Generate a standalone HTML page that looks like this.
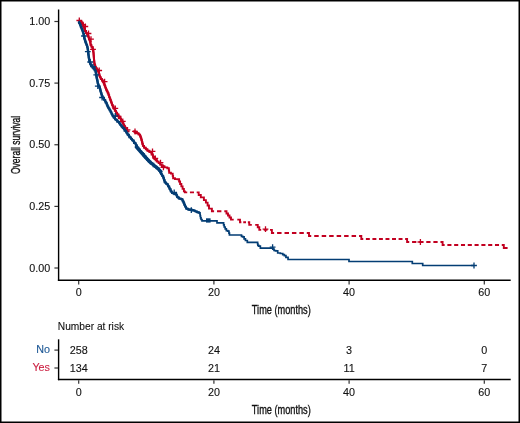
<!DOCTYPE html>
<html><head><meta charset="utf-8"><style>
html,body{margin:0;padding:0;background:#fff;}
body{width:520px;height:423px;overflow:hidden;}
svg{display:block;filter:blur(0.3px);}
text{font-family:"Liberation Sans", sans-serif;}
</style></head><body>
<svg width="520" height="423" viewBox="0 0 520 423">
<rect x="0" y="0" width="520" height="423" fill="#fff"/>
<g stroke="#000" stroke-width="1.4" fill="none">
<line x1="58.6" y1="9.4" x2="58.6" y2="281"/>
<line x1="57.9" y1="280.3" x2="510.7" y2="280.3"/>
</g>
<g stroke="#333" stroke-width="1.2">
<line x1="54.4" y1="21.5" x2="58" y2="21.5"/>
<line x1="54.4" y1="83.1" x2="58" y2="83.1"/>
<line x1="54.4" y1="144.75" x2="58" y2="144.75"/>
<line x1="54.4" y1="206.4" x2="58" y2="206.4"/>
<line x1="54.4" y1="268.0" x2="58" y2="268.0"/>
<line x1="78.7" y1="281" x2="78.7" y2="284.6"/>
<line x1="213.9" y1="281" x2="213.9" y2="284.6"/>
<line x1="349.1" y1="281" x2="349.1" y2="284.6"/>
<line x1="484.3" y1="281" x2="484.3" y2="284.6"/>
</g>
<g font-size="10" fill="#111" stroke="#111" stroke-width="0.1" text-anchor="end">
<text transform="translate(50.2,25.1) scale(1.08,1)">1.00</text>
<text transform="translate(50.2,86.7) scale(1.08,1)">0.75</text>
<text transform="translate(50.2,148.3) scale(1.08,1)">0.50</text>
<text transform="translate(50.2,210.0) scale(1.08,1)">0.25</text>
<text transform="translate(50.2,271.6) scale(1.08,1)">0.00</text>
</g>
<g font-size="10" fill="#111" stroke="#111" stroke-width="0.1" text-anchor="middle">
<text transform="translate(78.7,296.4) scale(1.08,1)">0</text>
<text transform="translate(213.9,296.4) scale(1.08,1)">20</text>
<text transform="translate(349.1,296.4) scale(1.08,1)">40</text>
<text transform="translate(484.3,296.4) scale(1.08,1)">60</text>
</g>
<text transform="translate(19.9,144.9) rotate(-90) scale(0.70,1)" font-size="12.2" text-anchor="middle" fill="#111" stroke="#111" stroke-width="0.35">Overall survival</text>
<text transform="translate(281.3,313.8) scale(0.754,1)" font-size="12.2" text-anchor="middle" fill="#111" stroke="#111" stroke-width="0.35">Time (months)</text>
<path d="M78.7 21.5L81.1 21.8L82.5 23.9L83.6 26.1L84.6 28.9L85.3 31L86.8 33.1L88.2 36L89.2 38.8L90.3 41.7L90.7 45L92.1 46.9L93 49.3L93.5 52.6L94 59.2L94.5 63.9L95.4 66.7L97.3 69.6L98.7 71.5L99.2 74.3L100.1 77.2L101.5 79L103.4 81.9L104.5 84.7L106.3 89.5L108.2 93.2L109.5 97.1L111.2 101.8L113 106.5L115.4 110.7L117.7 114.8L120.7 118.4L123 123.1L125.4 127.8L127.6 131.4M133.6 131.4L137.4 133.2L139.8 134.6L141.2 138.4L142.2 142.2L143.1 145.9L145 147.8L148.2 150.8L150.6 152L152.5 154.5L153.3 156.8L155.5 159L158 161.6" fill="none" stroke="#c20020" stroke-width="2.0" stroke-linejoin="round"/>
<path d="M78.7 21.5 L79.9 21.5 L79.9 21.8 L81.8 21.8 L81.8 23.9 L83.05 23.9 L83.05 26.1 L83.85 26.1 L83.85 27.5 L84.35 27.5 L84.35 28.9 L84.95 28.9 L84.95 31 L86.05 31 L86.05 33.1 L87.15 33.1 L87.15 34.55 L87.85 34.55 L87.85 36 L88.45 36 L88.45 37.4 L88.95 37.4 L88.95 38.8 L89.47 38.8 L89.47 40.25 L90.03 40.25 L90.03 41.7 L90.4 41.7 L90.4 43.35 L90.6 43.35 L90.6 45 L91.4 45 L91.4 46.9 L92.55 46.9 L92.55 49.3 L93.12 49.3 L93.12 50.95 L93.38 50.95 L93.38 52.6 L93.56 52.6 L93.56 54.25 L93.69 54.25 L93.69 55.9 L93.81 55.9 L93.81 57.55 L93.94 57.55 L93.94 59.2 L94.08 59.2 L94.08 60.77 L94.25 60.77 L94.25 62.33 L94.42 62.33 L94.42 63.9 L94.72 63.9 L94.72 65.3 L95.18 65.3 L95.18 66.7 L95.88 66.7 L95.88 68.15 L96.83 68.15 L96.83 69.6 L98 69.6 L98 71.5 L98.83 71.5 L98.83 72.9 L99.08 72.9 L99.08 74.3 L99.42 74.3 L99.42 75.75 L99.88 75.75 L99.88 77.2 L100.8 77.2 L100.8 79 L101.97 79 L101.97 80.45 L102.93 80.45 L102.93 81.9 L103.68 81.9 L103.68 83.3 L104.22 83.3 L104.22 84.7 L104.8 84.7 L104.8 86.3 L105.4 86.3 L105.4 87.9 L106 87.9 L106 89.5 L106.78 89.5 L106.78 91.35 L107.72 91.35 L107.72 93.2 L108.53 93.2 L108.53 95.15 L109.17 95.15 L109.17 97.1 L109.78 97.1 L109.78 98.67 L110.35 98.67 L110.35 100.23 L110.92 100.23 L110.92 101.8 L111.5 101.8 L111.5 103.37 L112.1 103.37 L112.1 104.93 L112.7 104.93 L112.7 106.5 L113.6 106.5 L113.6 108.6 L114.8 108.6 L114.8 110.7 L115.98 110.7 L115.98 112.75 L117.12 112.75 L117.12 114.8 L118.45 114.8 L118.45 116.6 L119.95 116.6 L119.95 118.4 L121.08 118.4 L121.08 119.97 L121.85 119.97 L121.85 121.53 L122.62 121.53 L122.62 123.1 L123.4 123.1 L123.4 124.67 L124.2 124.67 L124.2 126.23 L125 126.23 L125 127.8 L125.95 127.8 L125.95 129.6 L127.05 129.6 L127.05 131.4 L129.59 131.4M132.97 131.4 L135.5 131.4 L135.5 133.2 L138.6 133.2 L138.6 134.6 L140.15 134.6 L140.15 136.5 L140.85 136.5 L140.85 138.4 L141.45 138.4 L141.45 140.3 L141.95 140.3 L141.95 142.2 L142.42 142.2 L142.42 144.05 L142.88 144.05 L142.88 145.9 L144.05 145.9 L144.05 147.8 L145.8 147.8 L145.8 149.3 L147.4 149.3 L147.4 150.8 L149.4 150.8 L149.4 152 L151.55 152 L151.55 154.5 L152.9 154.5 L152.9 156.8 L154.4 156.8 L154.4 159 L156.75 159 L156.75 161.6 L158.7 161.6 L158.7 163.05 L160.1 163.05 L160.1 164.5 L161.9 164.5 L161.9 166.2 L164.45 166.2 L164.45 167.4 L167.3 167.4 L167.3 168.3 L168.85 168.3 L168.85 170.55 L169.15 170.55 L169.15 172.8 L170.9 172.8 L170.9 173.6 L172.7 173.6 L172.7 175.9 L173.1 175.9 L173.1 178.2 L174.95 178.2 L174.95 179.1 L177.65 179.1 L177.65 179.3 L179.1 179.3 L179.1 181.5 L180.1 181.5 L180.1 184 L181.35 184 L181.35 186.4 L182.6 186.4 L182.6 188.9 L183.9 188.9 L183.9 191.4 L184.9 191.4 L184.9 192.4 L185.2 192.4 L187.22 192.4M189.92 192.4 L193.97 192.4M196.67 192.4 L198.7 192.4 L198.7 195 L200.8 195 L200.8 197.4 L203.9 197.4 L203.9 200.1 L205.9 200.1 L205.9 202.6 L207.6 202.6 L207.6 205.5 L209 205.5 L209 208.6 L211.9 208.6 L211.9 211.2 L214.09 211.2M217.01 211.2 L221.39 211.2M224.31 211.2 L226.5 211.2 L226.5 213.5 L228 213.5 L228 215.5 L229.5 215.5 L229.5 217.5 L231 217.5 L231 219.6 L233.7 219.6M237.3 219.6 L240 219.6 L240 222.2 L241.39 222.2M243.24 222.2 L246.01 222.2M247.86 222.2 L249.25 222.2 L249.25 224.9 L251.8 224.9M255.2 224.9 L257.75 224.9 L257.75 227.3 L259.3 227.3 L259.3 229.9 L261.19 229.9M263.71 229.9 L267.49 229.9M270.01 229.9 L271.9 229.9 L271.9 233 L274.13 233M277.09 233 L281.55 233M284.51 233 L288.97 233M291.93 233 L296.39 233M299.35 233 L303.81 233M306.77 233 L309 233 L309 236 L311.24 236M314.23 236 L318.71 236M321.7 236 L326.18 236M329.17 236 L333.66 236M336.64 236 L341.13 236M344.12 236 L348.6 236M351.59 236 L356.07 236M359.06 236 L361.3 236 L361.3 239 L363.26 239M365.88 239 L369.81 239M372.42 239 L376.35 239M378.97 239 L382.89 239M385.51 239 L389.43 239M392.05 239 L395.98 239M398.59 239 L402.52 239M405.14 239 L407.1 239 L407.1 242 L409.23 242M412.07 242 L416.33 242M419.17 242 L423.43 242M426.27 242 L430.53 242M433.37 242 L437.63 242M440.47 242 L442.6 242 L442.6 245 L444.64 245M447.36 245 L451.44 245M454.16 245 L458.24 245M460.96 245 L465.04 245M467.76 245 L471.84 245M474.56 245 L478.64 245M481.36 245 L485.44 245M488.16 245 L492.24 245M494.96 245 L499.04 245M501.76 245 L503.8 245 L503.8 248 L507.6 248" fill="none" stroke="#c20020" stroke-width="1.9" stroke-linejoin="miter"/>
<path d="M76.4 20.5H82.2M79.3 17.6V23.4M80.3 24.6H86.1M83.2 21.7V27.5M82.4 26.5H88.2M85.3 23.6V29.4M85.6 33.5H91.4M88.5 30.6V36.4M88.1 39.2H93.9M91 36.3V42.1M90.1 49.3H95.9M93 46.4V52.2M96.3 70.5H102.1M99.2 67.6V73.4M101.7 81.6H107.5M104.6 78.7V84.5M112.4 108.4H118.2M115.3 105.5V111.3M115.7 116.4H121.5M118.6 113.5V119.3M119.9 121.3H125.7M122.8 118.4V124.2M124.6 129.9H130.4M127.5 127V132.8M132.1 131.3H137.9M135 128.4V134.2M149.6 151.3H155.4M152.5 148.4V154.2M152.4 158.4H158.2M155.3 155.5V161.3M157.6 162.7H163.4M160.5 159.8V165.6M160.5 167.4H166.3M163.4 164.5V170.3M262.6 229.2H268.4M265.5 226.3V232.1M417.5 242H423.3M420.4 239.1V244.9" fill="none" stroke="#c20020" stroke-width="1.3"/>
<path d="M78.7 21.5L80.2 24.6L81.1 27L82.5 30.3L83.5 33.5L84.6 38.8L85.7 42.4L86.9 45L87.8 48.8L88.8 57.3L89.7 62L91.1 65.3L93.5 67.7L95.4 70.5L96.3 74.3L96.8 78.1L97.8 82.8L98.3 84.7L99.7 87.6L100.7 91.3L102.1 96.1L104.5 99.9L106.3 102.7L107.8 106.5L110.1 110.3L112.8 115.7L115.7 119.5L118.5 121.8L120.9 125.1L123.2 128L125.6 130.8L128 134.6L130.3 137.4L132.7 140.3L135.1 143.1L137.8 147.6L140.7 151.3L143.5 154.2L146.3 158.2L149.2 161.5L152 163.7L154.9 166.5L158 168.3L159.7 170.7L161.3 174L163 176.1L164.2 179.8L165 182.3L167.1 184L168.7 186.4L170 188.9L171.2 191.4L172.5 193.1L175.8 193.8L176.8 195.3L177.5 197.2L179.9 198.6L181.9 199.2L183.3 201.5L184.7 204.9L186.6 208.6L189.5 209.6L194.2 210.5L196.1 211.5L198.4 212.4L199.9 212.9" fill="none" stroke="#033d74" stroke-width="2.5" stroke-linejoin="round"/>
<path d="M136.3 147 L143.3 155 L150.2 162.2 L157.3 168 L161 171.6" fill="none" stroke="#033d74" stroke-width="3.4" stroke-linecap="round" stroke-linejoin="round"/>
<path d="M78.7 21.5H79.08V23.05H79.83V24.6H80.65V27H81.45V28.65H82.15V30.3H82.75V31.9H83.25V33.5H83.68V35.27H84.05V37.03H84.42V38.8H84.88V40.6H85.42V42.4H86.3V45H87.12V46.9H87.58V48.8H87.92V50.92H88.17V53.05H88.42V55.17H88.67V57.3H89.03V59.65H89.47V62H90.05V63.65H90.75V65.3H92.3V67.7H94.45V70.5H95.62V72.4H96.08V74.3H96.42V76.2H96.67V78.1H97.05V80.45H97.55V82.8H98.05V84.7H98.65V86.15H99.35V87.6H99.95V89.45H100.45V91.3H100.93V92.9H101.4V94.5H101.87V96.1H102.7V98H103.9V99.9H105.4V102.7H106.67V104.6H107.42V106.5H108.38V108.4H109.52V110.3H110.55V112.1H111.45V113.9H112.35V115.7H113.53V117.6H114.97V119.5H117.1V121.8H119.1V123.45H120.3V125.1H121.48V126.55H122.62V128H124.4V130.8H126.2V132.7H127.4V134.6H129.15V137.4H130.9V138.85H132.1V140.3H133.9V143.1H135.78V145.35H137.12V147.6H138.53V149.45H139.97V151.3H141.4V152.75H142.8V154.2H144.2V156.2H145.6V158.2H147.03V159.85H148.47V161.5H150.6V163.7H153.45V166.5H156.45V168.3H158.85V170.7H160.1V172.35H160.9V174H162.15V176.1H163.3V177.95H163.9V179.8H164.6V182.3H166.05V184H167.9V186.4H169.35V188.9H170.6V191.4H171.85V193.1H174.15V193.8H176.3V195.3H177.15V197.2H178.7V198.6H180.9V199.2H182.6V201.5H183.65V203.2H184.35V204.9H185.17V206.75H186.12V208.6H188.05V209.6H191.85V210.5H195.15V211.5H197.25V212.4H199.15V212.9H200V214.55H200.2V216.2H200.55V217.85H201.05V219.5H202V220.9H217V222.8H223.6V224.9H224.2V227H225.2V228.8H226.35V230.7H227.75V231.2H228.95V233.1H229.45V235H241.5V236.4H242.7V236.9H244.1V238.8H245.45V240.5H247.3V242.3H257.62V243.8H257.88V245.3H258.7V246.2H260.35V248.1H272.9V249H274.05V250.5H275.45V250.9H277.7V253H280.35V253.5H282.75V254.6H284.35V255.6H285.95V257.4H288.05V259.5H349V261.5H412.3V263.5H422.7V265.5H474" fill="none" stroke="#033d74" stroke-width="1.7"/>
<path d="M81.1 36H86.9M84 33.1V38.9M84.9 51.6H90.7M87.8 48.7V54.5M87.3 62H93.1M90.2 59.1V64.9M90.1 66.7H95.9M93 63.8V69.6M93.4 74.8H99.2M96.3 71.9V77.7M94.9 86.1H100.7M97.8 83.2V89M99.2 97.5H105M102.1 94.6V100.4M112.4 115.9H118.2M115.3 113V118.8M171.3 192.4H177.1M174.2 189.5V195.3M188.4 210.1H194.2M191.3 207.2V213M269.7 247.2H275.5M272.6 244.3V250.1M471.1 265.5H476.9M474 262.6V268.4" fill="none" stroke="#033d74" stroke-width="1.3"/>
<rect x="206" y="218.3" width="4.6" height="4.3" fill="#033d74"/>
<text transform="translate(57.8,330.3) scale(1.02,1)" font-size="10" fill="#111" stroke="#111" stroke-width="0.1">Number at risk</text>
<g stroke="#000" stroke-width="1.4" fill="none">
<line x1="58.6" y1="339.3" x2="58.6" y2="380.2"/>
<line x1="57.9" y1="379.5" x2="510.7" y2="379.5"/>
</g>
<g stroke="#333" stroke-width="1.2">
<line x1="54.4" y1="350.1" x2="58" y2="350.1"/>
<line x1="54.4" y1="368" x2="58" y2="368"/>
<line x1="78.7" y1="380.2" x2="78.7" y2="383.8"/>
<line x1="213.9" y1="380.2" x2="213.9" y2="383.8"/>
<line x1="349.1" y1="380.2" x2="349.1" y2="383.8"/>
<line x1="484.3" y1="380.2" x2="484.3" y2="383.8"/>
</g>
<text transform="translate(50,353.3) scale(1.08,1)" font-size="10" fill="#1d5896" stroke="#1d5896" stroke-width="0.1" text-anchor="end">No</text>
<text transform="translate(50,371.3) scale(1.08,1)" font-size="10" fill="#cc2244" stroke="#cc2244" stroke-width="0.1" text-anchor="end">Yes</text>
<g font-size="10" fill="#111" stroke="#111" stroke-width="0.1" text-anchor="middle">
<text transform="translate(78.7,353.6) scale(1.08,1)">258</text>
<text transform="translate(78.7,371.6) scale(1.08,1)">134</text>
<text transform="translate(213.9,353.6) scale(1.08,1)">24</text>
<text transform="translate(213.9,371.6) scale(1.08,1)">21</text>
<text transform="translate(349.1,353.6) scale(1.08,1)">3</text>
<text transform="translate(349.1,371.6) scale(1.08,1)">11</text>
<text transform="translate(484.3,353.6) scale(1.08,1)">0</text>
<text transform="translate(484.3,371.6) scale(1.08,1)">7</text>
<text transform="translate(78.7,396.1) scale(1.08,1)">0</text>
<text transform="translate(213.9,396.1) scale(1.08,1)">20</text>
<text transform="translate(349.1,396.1) scale(1.08,1)">40</text>
<text transform="translate(484.3,396.1) scale(1.08,1)">60</text>
</g>
<text transform="translate(281.3,413.8) scale(0.754,1)" font-size="12.2" text-anchor="middle" fill="#111" stroke="#111" stroke-width="0.35">Time (months)</text>
<rect x="0.75" y="0.75" width="518.5" height="421.5" fill="none" stroke="#000" stroke-width="1.5"/>
</svg></body></html>
